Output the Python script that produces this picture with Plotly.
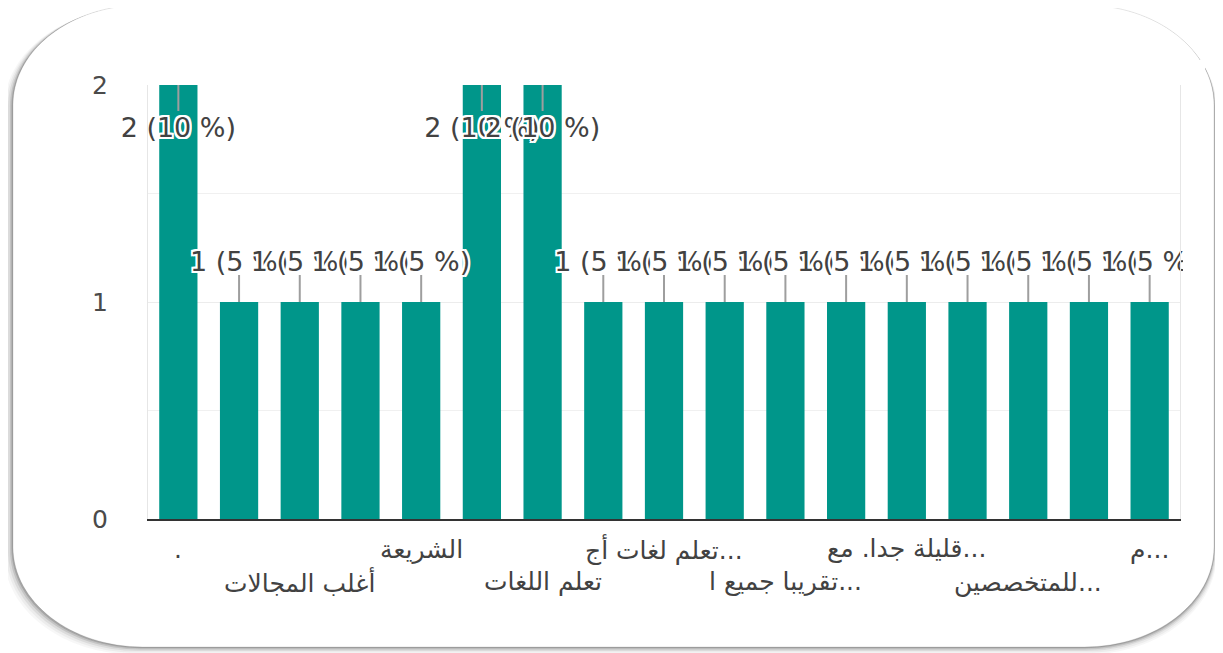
import plotly.graph_objects as go

# ---- data ----
categories = ["ج1", "ج2", "ج3", "ج4", "ج5", "ج6", "ج7", "ج8", "ج9",
              "ج10", "ج11", "ج12", "ج13", "ج14", "ج15", "ج16", "ج17"]
counts = [2, 1, 1, 1, 1, 2, 2, 1, 1, 1, 1, 1, 1, 1, 1, 1, 1]
tick_row1 = {0: ".", 4: "الشريعة", 8: "تعلم لغات أج...", 12: "قليلة جدا. مع...", 16: "م..."}
tick_row2 = {2: "أغلب المجالات", 6: "تعلم اللغات", 10: "تقريبا جميع ا...", 14: "للمتخصصين..."}
y_ticks = [0, 1, 2]

total = sum(counts)
labels = [f"{c} ({round(100 * c / total)} %)" for c in counts]

W, H = 1223, 653
OFF = 8  # page body margin in the browser
L, R, T, B = 148 - OFF, 1180 - OFF, 85 - OFF, 519 - OFF
ymax = max(y_ticks)
unit = (B - T) / ymax

TEAL = "#00968a"
FONT = "DejaVu Sans"
HALO = ("2px 0 0 white, -2px 0 0 white, 0 2px 0 white, 0 -2px 0 white, "
        "2px 2px 0 white, -2px -2px 0 white, 2px -2px 0 white, -2px 2px 0 white")

fig = go.Figure()
fig.add_trace(go.Bar(x=categories, y=counts, marker_color=TEAL, marker_line_width=0,
                     hoverinfo="skip", showlegend=False))

# leader lines
for cat, c in zip(categories, counts):
    if c >= ymax:
        y0, y1 = c, c - 26 / unit
    else:
        y0, y1 = c, c + 27 / unit
    fig.add_trace(go.Scatter(x=[cat, cat], y=[y0, y1], mode="lines",
                             line=dict(color="#9e9e9e", width=2),
                             hoverinfo="skip", showlegend=False, cliponaxis=True))
# value labels
for cat, c, lab in zip(categories, counts, labels):
    yl = c - 45 / unit if c >= ymax else c + 38 / unit
    fig.add_trace(go.Scatter(
        x=[cat], y=[yl], mode="text", text=[lab], textposition="middle center",
        textfont=dict(family=FONT, size=27, color="#424242", shadow=HALO),
        hoverinfo="skip", showlegend=False, cliponaxis=False))

# x labels (staggered rows)
for i, t in tick_row1.items():
    fig.add_annotation(x=categories[i], y=(B - (549 - OFF)) / (B - T), xref="x", yref="paper",
                       text=t, showarrow=False, yanchor="middle",
                       font=dict(family=FONT, size=25, color="#424242"))
for i, t in tick_row2.items():
    fig.add_annotation(x=categories[i], y=(B - (582 - OFF)) / (B - T), xref="x", yref="paper",
                       text=t, showarrow=False, yanchor="middle",
                       font=dict(family=FONT, size=25, color="#424242"))

# card with shadow (reference pixel -> paper helpers)
def fx(px):
    return (px - OFF - L) / (R - L)

def fy(py):
    return (B - (py - OFF)) / (B - T)

def card_path(x0, y0, x1, y1, rx, ry):
    k = 0.5523
    p = []
    p.append(f"M {fx(x0 + rx)},{fy(y0)}")
    p.append(f"L {fx(x1 - rx)},{fy(y0)}")
    p.append(f"C {fx(x1 - rx + k * rx)},{fy(y0)} {fx(x1)},{fy(y0 + ry - k * ry)} {fx(x1)},{fy(y0 + ry)}")
    p.append(f"L {fx(x1)},{fy(y1 - ry)}")
    p.append(f"C {fx(x1)},{fy(y1 - ry + k * ry)} {fx(x1 - rx + k * rx)},{fy(y1)} {fx(x1 - rx)},{fy(y1)}")
    p.append(f"L {fx(x0 + rx)},{fy(y1)}")
    p.append(f"C {fx(x0 + rx - k * rx)},{fy(y1)} {fx(x0)},{fy(y1 - ry + k * ry)} {fx(x0)},{fy(y1 - ry)}")
    p.append(f"L {fx(x0)},{fy(y0 + ry)}")
    p.append(f"C {fx(x0)},{fy(y0 + ry - k * ry)} {fx(x0 + rx - k * rx)},{fy(y0)} {fx(x0 + rx)},{fy(y0)}")
    p.append("Z")
    return " ".join(p)

CX0, CY0, CX1, CY1, RX, RY = 13, 5, 1214, 647, 130, 100
shapes = []
for off, op in [(9, 0.04), (7, 0.06), (5, 0.09), (3, 0.15), (1.5, 0.22)]:
    shapes.append(dict(type="path", xref="paper", yref="paper", layer="below",
                       path=card_path(CX0 - off, CY0 + off * 0.4, CX1 + off * 0.3, CY1 + off * 0.8, RX, RY),
                       fillcolor=f"rgba(60,60,60,{op})", line=dict(width=0)))
shapes.append(dict(type="path", xref="paper", yref="paper", layer="below",
                   path=card_path(CX0, CY0, CX1, CY1, RX, RY),
                   fillcolor="white", line=dict(color="rgba(0,0,0,0.10)", width=1)))
# clip value labels at the right edge of the chart area
shapes.append(dict(type="rect", xref="paper", yref="paper", layer="above",
                   x0=fx(1183), x1=fx(1205), y0=fy(300), y1=fy(60),
                   fillcolor="white", line=dict(width=0)))

fig.update_layout(
    width=W, height=H,
    margin=dict(l=L, r=W - R, t=T, b=H - B, pad=0),
    paper_bgcolor="white", plot_bgcolor="rgba(0,0,0,0)",
    bargap=0.37, shapes=shapes, showlegend=False,
    font=dict(family=FONT, color="#424242"),
    xaxis=dict(type="category", showticklabels=False, ticks="", showgrid=False,
               showline=True, linecolor="#333333", linewidth=2, zeroline=False,
               range=[-0.5, len(categories) - 0.5]),
    yaxis=dict(range=[0, ymax], tickvals=y_ticks, ticktext=[str(v) for v in y_ticks],
               tickfont=dict(family=FONT, size=25, color="#4a4a4a"),
               ticklabelstandoff=34,
               showgrid=True, gridcolor="#ececec", gridwidth=1,
               minor=dict(dtick=0.5, showgrid=True, gridcolor="#f0f0f0", gridwidth=1),
               showline=True, mirror=True, linecolor="#e6e6e6", linewidth=1,
               zeroline=False, ticks=""),
)

fig.write_html("out.html")
